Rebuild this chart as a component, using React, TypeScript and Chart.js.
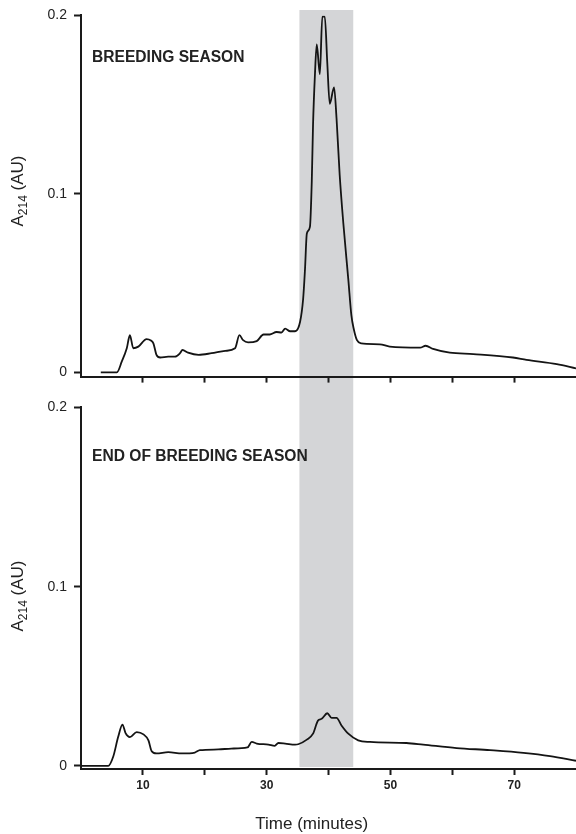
import React, { useEffect, useRef } from "react";
import { Chart, registerables } from "chart.js";

Chart.register(...registerables);

// ---- Data (minutes, absorbance AU) ----
const breedingTime = [
  3.2, 5.8, 6.6, 7.4, 7.9, 8.45, 9.26, 10.6, 11.3, 11.7, 12.2, 12.8, 14.1, 15.2, 16.0, 16.4, 17.3, 19.0,
  21.1, 23.3, 24.9, 25.6, 26.2, 27.0, 28.4, 29.5, 30.5, 31.6, 32.4, 33.0, 33.8, 34.6, 35.4, 35.9, 36.2,
  36.5, 37.0, 37.3, 37.5, 37.8, 38.1, 38.6, 39.0, 39.4, 39.8, 40.2, 40.9, 41.3, 41.8, 42.4, 43.2, 43.7,
  44.1, 44.6, 45.3, 48.3, 49.9, 54.8, 55.7, 56.9, 59.6, 63.4, 69.8, 72.0, 76.9, 80.0,
];
const breedingAbs = [
  0, 0, 0.0061, 0.0135, 0.0208, 0.0135, 0.0144, 0.0186, 0.0178, 0.0162, 0.0098, 0.0083, 0.0088, 0.0088,
  0.0107, 0.0125, 0.011, 0.0098, 0.0107, 0.012, 0.0135, 0.0208, 0.018, 0.0168, 0.0175, 0.0212, 0.0212,
  0.0226, 0.0223, 0.0245, 0.023, 0.023, 0.0282, 0.0411, 0.0576, 0.0778, 0.0815, 0.1073, 0.1386, 0.1662,
  0.1837, 0.1671, 0.1993, 0.1993, 0.1736, 0.1505, 0.1597, 0.1422, 0.111, 0.0834, 0.0521, 0.0319, 0.024,
  0.018, 0.0162, 0.0157, 0.0144, 0.0138, 0.0149, 0.0131, 0.011, 0.0102, 0.0083, 0.007, 0.0046, 0.0022,
];

const endTime = [
  0, 4.4, 5.2, 6.0, 6.7, 7.2, 7.9, 9.0, 10.1, 10.9, 11.4, 12.2, 14.1, 16.3, 18.4, 19.2, 22.2, 24.3, 26.9,
  27.6, 28.4, 30.3, 31.3, 31.9, 33.0, 34.6, 35.1, 36.5, 37.5, 38.3, 38.9, 39.8, 40.5, 41.3, 42.1, 43.2,
  44.8, 46.7, 52.6, 55.3, 60.7, 66.1, 71.5, 75.8, 80.0,
];
const endAbs = [
  0, 0, 0.0051, 0.0161, 0.0231, 0.0183, 0.0161, 0.0189, 0.0176, 0.0143, 0.0084, 0.007, 0.0077, 0.007,
  0.0075, 0.0088, 0.0092, 0.0097, 0.0103, 0.0134, 0.0125, 0.0119, 0.0112, 0.0128, 0.0125, 0.0119, 0.0121,
  0.0147, 0.018, 0.0253, 0.0263, 0.0294, 0.0268, 0.0268, 0.0226, 0.018, 0.0143, 0.0134, 0.0128, 0.0119,
  0.01, 0.0088, 0.0073, 0.0055, 0.0029,
];

const xTickValues = [10, 20, 30, 40, 50, 60, 70];
const xLabelValues = [10, 30, 50, 70];
const yTickValues = [0, 0.1, 0.2];
const bandRange = [35.3, 44.0];
const panelTitles = ["BREEDING SEASON", "END OF BREEDING SEASON"];
const yLabelMain = "A";
const yLabelSub = "214";
const yLabelRest = " (AU)";
const xAxisTitle = "Time (minutes)";

const FONT = '"Liberation Sans", Arial, Helvetica, sans-serif';
const INK = "#1a1a1a";
const BAND = "#d4d5d7";

type PanelOpts = {
  times: number[];
  values: number[];
  title: string;
  titleBaseline: number;
  yMin: number;
  padTop: number;
  xAxisHeight: number;
  showXLabels: boolean;
  bandTop: number;
  bandBottom: number | null;
  yLabelCenter: number;
  xTitleBaseline: number | null;
};

function makeConfig(o: PanelOpts): any {
  const bandPlugin = {
    id: "band",
    beforeDraw(chart: any) {
      const ctx = chart.ctx;
      const xs = chart.scales.x;
      const l = xs.getPixelForValue(bandRange[0]);
      const r = xs.getPixelForValue(bandRange[1]);
      const bottom = o.bandBottom == null ? chart.height : o.bandBottom;
      ctx.save();
      ctx.fillStyle = BAND;
      ctx.fillRect(l, o.bandTop, r - l, bottom - o.bandTop);
      ctx.restore();
    },
  };
  const textPlugin = {
    id: "texts",
    afterDraw(chart: any) {
      const ctx = chart.ctx;
      ctx.save();
      ctx.fillStyle = "#222";
      // panel title
      ctx.font = `bold 15.6px ${FONT}`;
      ctx.textAlign = "left";
      ctx.textBaseline = "alphabetic";
      ctx.fillText(o.title, 92, o.titleBaseline);
      // y axis label with subscript
      ctx.save();
      ctx.translate(23, o.yLabelCenter);
      ctx.rotate(-Math.PI / 2);
      const mainFont = `17px ${FONT}`;
      const subFont = `12px ${FONT}`;
      ctx.font = mainFont;
      const wA = ctx.measureText(yLabelMain).width;
      const wR = ctx.measureText(yLabelRest).width;
      ctx.font = subFont;
      const wS = ctx.measureText(yLabelSub).width;
      const total = wA + wS + wR;
      const x0 = -total / 2;
      ctx.textAlign = "left";
      ctx.font = mainFont;
      ctx.fillText(yLabelMain, x0, 0);
      ctx.font = subFont;
      ctx.fillText(yLabelSub, x0 + wA, 3.5);
      ctx.font = mainFont;
      ctx.fillText(yLabelRest, x0 + wA + wS, 0);
      ctx.restore();
      // x title
      if (o.xTitleBaseline != null) {
        ctx.font = `17px ${FONT}`;
        ctx.textAlign = "center";
        ctx.fillText(xAxisTitle, 311.7, o.xTitleBaseline);
      }
      ctx.restore();
    },
  };

  return {
    type: "line",
    data: {
      datasets: [
        {
          data: o.times.map((t, i) => ({ x: t, y: o.values[i] })),
          borderColor: "#141414",
          borderWidth: 1.8,
          pointRadius: 0,
          fill: false,
          cubicInterpolationMode: "monotone",
        },
      ],
    },
    options: {
      animation: false,
      responsive: false,
      maintainAspectRatio: false,
      devicePixelRatio: 1,
      events: [],
      layout: { padding: { left: 0, right: 0, top: o.padTop, bottom: 0 } },
      plugins: { legend: { display: false }, tooltip: { enabled: false }, title: { display: false } },
      scales: {
        x: {
          type: "linear",
          min: 0,
          max: 80,
          afterBuildTicks: (s: any) => {
            s.ticks = xTickValues.map((v) => ({ value: v }));
          },
          afterFit: (s: any) => {
            s.height = o.xAxisHeight;
          },
          border: { display: true, color: INK, width: 2 },
          grid: {
            display: true,
            drawOnChartArea: false,
            drawTicks: true,
            tickLength: 6,
            tickWidth: 2,
            tickColor: INK,
            color: INK,
          },
          ticks: {
            display: o.showXLabels,
            autoSkip: false,
            maxRotation: 0,
            padding: 3,
            color: "#222",
            font: { family: FONT, size: 12, weight: "bold" },
            callback: (v: any) => (xLabelValues.includes(v) ? String(v) : ""),
          },
        },
        y: {
          type: "linear",
          min: o.yMin,
          max: 0.2,
          afterBuildTicks: (s: any) => {
            s.ticks = yTickValues.map((v) => ({ value: v }));
          },
          afterFit: (s: any) => {
            s.width = 81;
          },
          border: { display: true, color: INK, width: 2 },
          grid: {
            display: true,
            drawOnChartArea: false,
            drawTicks: true,
            tickLength: 7,
            tickWidth: 2,
            tickColor: INK,
            color: INK,
          },
          ticks: {
            autoSkip: false,
            padding: 7,
            color: "#222",
            font: { family: FONT, size: 14 },
            callback: (v: any) => (v === 0 ? "0" : String(v)),
          },
        },
      },
    },
    plugins: [bandPlugin, textPlugin],
  };
}

export default function App() {
  const topRef = useRef<HTMLCanvasElement | null>(null);
  const botRef = useRef<HTMLCanvasElement | null>(null);

  useEffect(() => {
    const c1 = new Chart(
      topRef.current as HTMLCanvasElement,
      makeConfig({
        times: breedingTime,
        values: breedingAbs,
        title: panelTitles[0],
        titleBaseline: 62.3,
        yMin: -0.0024,
        padTop: 15,
        xAxisHeight: 10,
        showXLabels: false,
        bandTop: 10,
        bandBottom: null,
        yLabelCenter: 191,
        xTitleBaseline: null,
      })
    );
    const c2 = new Chart(
      botRef.current as HTMLCanvasElement,
      makeConfig({
        times: endTime,
        values: endAbs,
        title: panelTitles[1],
        titleBaseline: 68.7,
        yMin: -0.0017,
        padTop: 11,
        xAxisHeight: 65,
        showXLabels: true,
        bandTop: 0,
        bandBottom: 375,
        yLabelCenter: 204,
        xTitleBaseline: 436.5,
      })
    );
    return () => {
      c1.destroy();
      c2.destroy();
    };
  }, []);

  return (
    <div style={{ position: "fixed", left: 0, top: 0, width: 576, height: 834, background: "#fff" }}>
      <canvas ref={topRef} width={576} height={392} style={{ position: "absolute", left: 0, top: 0, display: "block" }} />
      <canvas ref={botRef} width={576} height={442} style={{ position: "absolute", left: 0, top: 392, display: "block" }} />
    </div>
  );
}
